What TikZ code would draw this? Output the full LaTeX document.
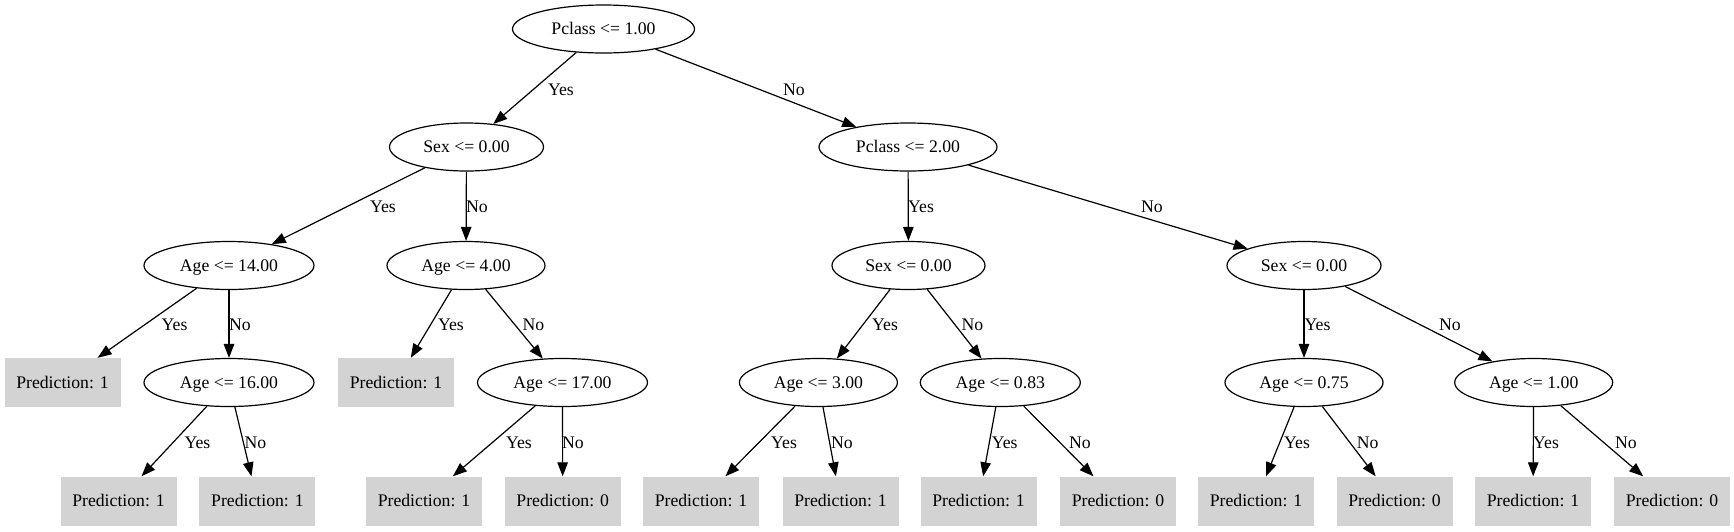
\documentclass[tikz,border=0pt]{standalone}
\usepackage{fontspec}
\setmainfont{Liberation Serif}
\usetikzlibrary{arrows.meta,shapes.geometric}
\definecolor{gvgray}{HTML}{D3D3D3}
\begin{document}
\begin{tikzpicture}[x=1pt,y=-1pt,font=\fontsize{17.7}{20}\selectfont,
  dec/.style={ellipse, draw, line width=1.2pt, minimum height=48pt, inner sep=0pt, text height=11.7pt, text depth=0pt},
  leaf/.style={rectangle, fill=gvgray, minimum width=116pt, minimum height=49pt, inner sep=0pt, text height=11.7pt, text depth=0pt},
  edge/.style={draw, line width=1.2pt, -{Triangle[length=14pt,width=10.5pt]}},
  lbl/.style={inner sep=0pt, text height=11.7pt, text depth=0pt}]
\useasboundingbox (0,0) rectangle (1734,531);
% row 1
\node[dec, minimum width=182pt] (n1) at (603.5,29) {Pclass <= 1.00};
% row 2
\node[dec, minimum width=154pt] (n2) at (466.5,147) {Sex <= 0.00};
\node[dec, minimum width=178pt] (n3) at (908,147) {Pclass <= 2.00};
% row 3
\node[dec, minimum width=170pt] (n4) at (229,265.5) {Age <= 14.00};
\node[dec, minimum width=158pt] (n5) at (466,265.5) {Age <= 4.00};
\node[dec, minimum width=153pt] (n6) at (908.5,265.5) {Sex <= 0.00};
\node[dec, minimum width=154pt] (n7) at (1304,265.5) {Sex <= 0.00};
% row 4
\node[leaf] (p1) at (62.5,382.5) {Prediction: 1};
\node[dec, minimum width=170pt] (n8) at (229,382.5) {Age <= 16.00};
\node[leaf] (p2) at (396,382.5) {Prediction: 1};
\node[dec, minimum width=170pt] (n9) at (562.5,382.5) {Age <= 17.00};
\node[dec, minimum width=158pt] (n10) at (818.4,382.5) {Age <= 3.00};
\node[dec, minimum width=160pt] (n11) at (1000.3,382.5) {Age <= 0.83};
\node[dec, minimum width=158pt] (n12) at (1304,382.5) {Age <= 0.75};
\node[dec, minimum width=158pt] (n13) at (1533.7,382.5) {Age <= 1.00};
% row 5
\node[leaf] (p3) at (118.5,501) {Prediction: 1};
\node[leaf] (p4) at (257.4,501) {Prediction: 1};
\node[leaf] (p5) at (424,501) {Prediction: 1};
\node[leaf] (p6) at (562.7,501) {Prediction: 0};
\node[leaf] (p7) at (701,501) {Prediction: 1};
\node[leaf] (p8) at (840.5,501) {Prediction: 1};
\node[leaf] (p9) at (978.6,501) {Prediction: 1};
\node[leaf] (p10) at (1118,501) {Prediction: 0};
\node[leaf] (p11) at (1256,501) {Prediction: 1};
\node[leaf] (p12) at (1394.5,501) {Prediction: 0};
\node[leaf] (p13) at (1533,501) {Prediction: 1};
\node[leaf] (p14) at (1672,501) {Prediction: 0};
% edges
\draw[edge] (n1) -- (n2); \node[lbl] (l1) at (561,90) {Yes};
\draw[edge] (n1) -- (n3); \node[lbl] (l2) at (794,90) {No};
\draw[edge] (n2) -- (n4); \node[lbl] (l3) at (383,207) {Yes};
\draw[edge] (n2) -- (n5); \node[lbl] (l4) at (477,207) {No};
\draw[edge] (n3) -- (n6); \node[lbl] (l5) at (921,207) {Yes};
\draw[edge] (n3) -- (n7); \node[lbl] (l6) at (1152,207) {No};
\draw[edge] (n4) -- (p1); \node[lbl] (l7) at (174.6,325) {Yes};
\draw[edge] (n4) -- (n8); \node[lbl] (l8) at (240,325) {No};
\draw[edge] (n5) -- (p2); \node[lbl] (l9) at (451,325) {Yes};
\draw[edge] (n5) -- (n9); \node[lbl] (l10) at (533.5,325) {No};
\draw[edge] (n6) -- (n10); \node[lbl] (l11) at (885,325) {Yes};
\draw[edge] (n6) -- (n11); \node[lbl] (l12) at (972.5,325) {No};
\draw[edge] (n7) -- (n12); \node[lbl] (l13) at (1317.5,325) {Yes};
\draw[edge] (n7) -- (n13); \node[lbl] (l14) at (1450,325) {No};
\draw[edge] (n8) -- (p3); \node[lbl] (l15) at (197.5,443) {Yes};
\draw[edge] (n8) -- (p4); \node[lbl] (l16) at (255.4,443) {No};
\draw[edge] (n9) -- (p5); \node[lbl] (l17) at (519,443) {Yes};
\draw[edge] (n9) -- (p6); \node[lbl] (l18) at (573,443) {No};
\draw[edge] (n10) -- (p7); \node[lbl] (l19) at (784,443) {Yes};
\draw[edge] (n10) -- (p8); \node[lbl] (l20) at (842,443) {No};
\draw[edge] (n11) -- (p9); \node[lbl] (l21) at (1004.7,443) {Yes};
\draw[edge] (n11) -- (p10); \node[lbl] (l22) at (1080,443) {No};
\draw[edge] (n12) -- (p11); \node[lbl] (l23) at (1297,443) {Yes};
\draw[edge] (n12) -- (p12); \node[lbl] (l24) at (1367.7,443) {No};
\draw[edge] (n13) -- (p13); \node[lbl] (l25) at (1546,443) {Yes};
\draw[edge] (n13) -- (p14); \node[lbl] (l26) at (1626,443) {No};
\end{tikzpicture}
\end{document}
